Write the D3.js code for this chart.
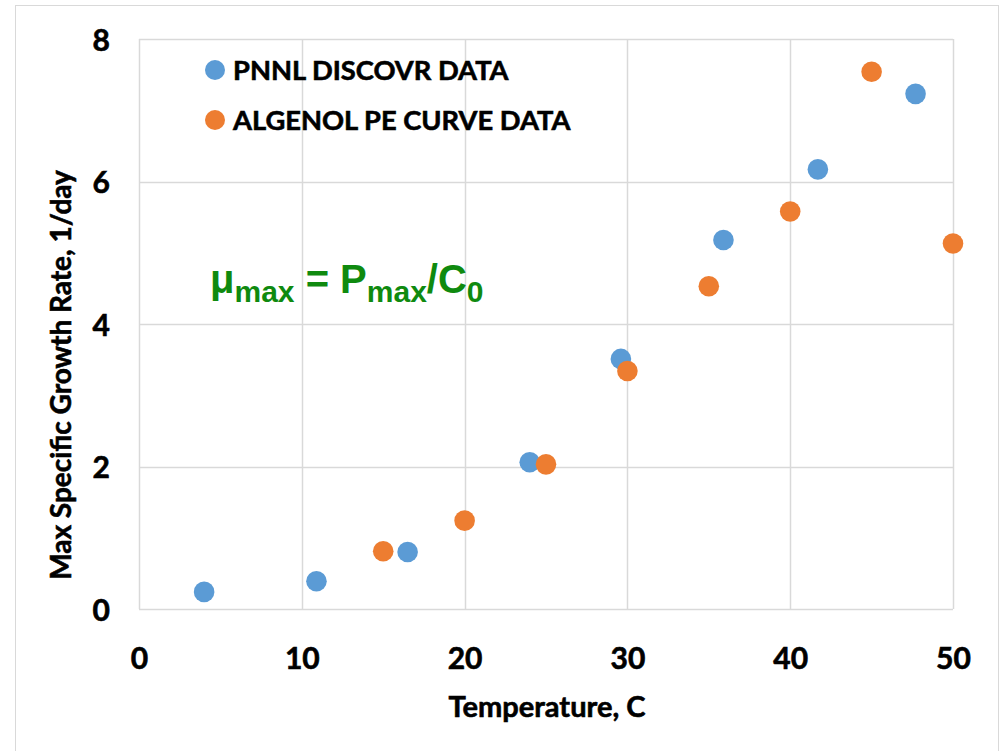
<!DOCTYPE html>
<html>
<head>
<meta charset="utf-8">
<script src="https://cdn.jsdelivr.net/npm/d3@7/dist/d3.min.js"></script>
<style>
  html, body { margin: 0; padding: 0; background: #fff; }
  svg { display: block; }
</style>
</head>
<body>
<script>
// Series data: temperature (C) vs. max specific growth rate (1/day)
const pnnlTemp     = [4, 10.9, 16.5, 24, 29.6, 35.9, 41.7, 47.7];
const pnnlRate     = [0.24, 0.39, 0.80, 2.06, 3.51, 5.18, 6.17, 7.23];
const algenolTemp  = [15, 20, 25, 30, 35, 40, 45, 50];
const algenolRate  = [0.81, 1.24, 2.03, 3.34, 4.53, 5.58, 7.54, 5.13];

const seriesNames  = ["PNNL DISCOVR DATA", "ALGENOL PE CURVE DATA"];
const seriesColors = ["#5b9bd5", "#ed7d31"];

const xTicks = [0, 10, 20, 30, 40, 50];
const yTicks = [0, 2, 4, 6, 8];

const W = 1000, H = 751;
const plot = { left: 139, right: 953, top: 39, bottom: 609 };
const labelFont = "Lato, 'Open Sans', sans-serif";

const svg = d3.select("body").append("svg")
  .attr("width", W).attr("height", H);

// bold labels get a thin outline to make them heavier
function boldText(sel, size) {
  return sel.attr("font-family", labelFont).attr("font-weight", "bold")
    .attr("font-size", size).attr("fill", "#000")
    .attr("stroke", "#000").attr("stroke-width", 0.6);
}

// chart frame
svg.append("rect")
  .attr("x", 15.5).attr("y", 5.5)
  .attr("width", 983).attr("height", 800)
  .attr("fill", "#fff").attr("stroke", "#d9d9d9").attr("stroke-width", 1);

const x = d3.scaleLinear().domain([0, 50]).range([plot.left, plot.right]);
const y = d3.scaleLinear().domain([0, 8]).range([plot.bottom, plot.top]);

// gridlines
const grid = svg.append("g");
grid.selectAll("line.v").data(xTicks).join("line")
  .attr("x1", d => Math.round(x(d)) + 0.5).attr("x2", d => Math.round(x(d)) + 0.5)
  .attr("y1", plot.top).attr("y2", plot.bottom)
  .attr("stroke", "#d9d9d9").attr("stroke-width", 1.5);
grid.selectAll("line.h").data(yTicks).join("line")
  .attr("y1", d => Math.round(y(d)) + 0.5).attr("y2", d => Math.round(y(d)) + 0.5)
  .attr("x1", plot.left).attr("x2", plot.right)
  .attr("stroke", "#d9d9d9").attr("stroke-width", 1.5);

// axes (labels only)
const xAxis = svg.append("g")
  .attr("transform", `translate(0,${plot.bottom})`)
  .call(d3.axisBottom(x).tickValues(xTicks).tickSize(0).tickFormat(d3.format("d")));
xAxis.select(".domain").remove();
boldText(xAxis.selectAll("text").attr("y", 60).attr("dy", null), 30);

const yAxis = svg.append("g")
  .attr("transform", `translate(${plot.left},0)`)
  .call(d3.axisLeft(y).tickValues(yTicks).tickSize(0).tickFormat(d3.format("d")));
yAxis.select(".domain").remove();
boldText(yAxis.selectAll("text").attr("x", -29).attr("dy", 11), 30);

// axis titles
boldText(svg.append("text")
  .attr("x", 547).attr("y", 717)
  .attr("text-anchor", "middle"), 29)
  .text("Temperature, C");

boldText(svg.append("text")
  .attr("transform", "translate(71,375) rotate(-90)")
  .attr("text-anchor", "middle"), 28)
  .text("Max Specific Growth Rate, 1/day");

// scatter points
const series = [
  { temp: pnnlTemp, rate: pnnlRate, color: seriesColors[0] },
  { temp: algenolTemp, rate: algenolRate, color: seriesColors[1] }
];
series.forEach(s => {
  svg.append("g").selectAll("circle")
    .data(s.temp.map((t, i) => [t, s.rate[i]]))
    .join("circle")
    .attr("cx", d => x(d[0])).attr("cy", d => y(d[1]))
    .attr("r", 10.3).attr("fill", s.color);
});

// legend
const legend = svg.append("g");
seriesNames.forEach((name, i) => {
  const ly = 70 + i * 50;
  legend.append("circle").attr("cx", 215).attr("cy", ly).attr("r", 10).attr("fill", seriesColors[i]);
  boldText(legend.append("text").attr("x", 233).attr("y", ly + 9.5), 27.3)
    .text(name);
});

// formula annotation
const f = svg.append("text")
  .attr("x", 210).attr("y", 293)
  .attr("font-family", "'Liberation Sans', Arial, sans-serif").attr("font-weight", "bold")
  .attr("font-size", 40).attr("fill", "#0f8a0f");
f.append("tspan").text("μ");
f.append("tspan").attr("font-size", 30).attr("dy", 9).text("max");
f.append("tspan").attr("dy", -9).text(" = P");
f.append("tspan").attr("font-size", 30).attr("dy", 9).text("max");
f.append("tspan").attr("dy", -9).text("/C");
f.append("tspan").attr("font-size", 30).attr("dy", 9).text("0");
</script>
</body>
</html>
